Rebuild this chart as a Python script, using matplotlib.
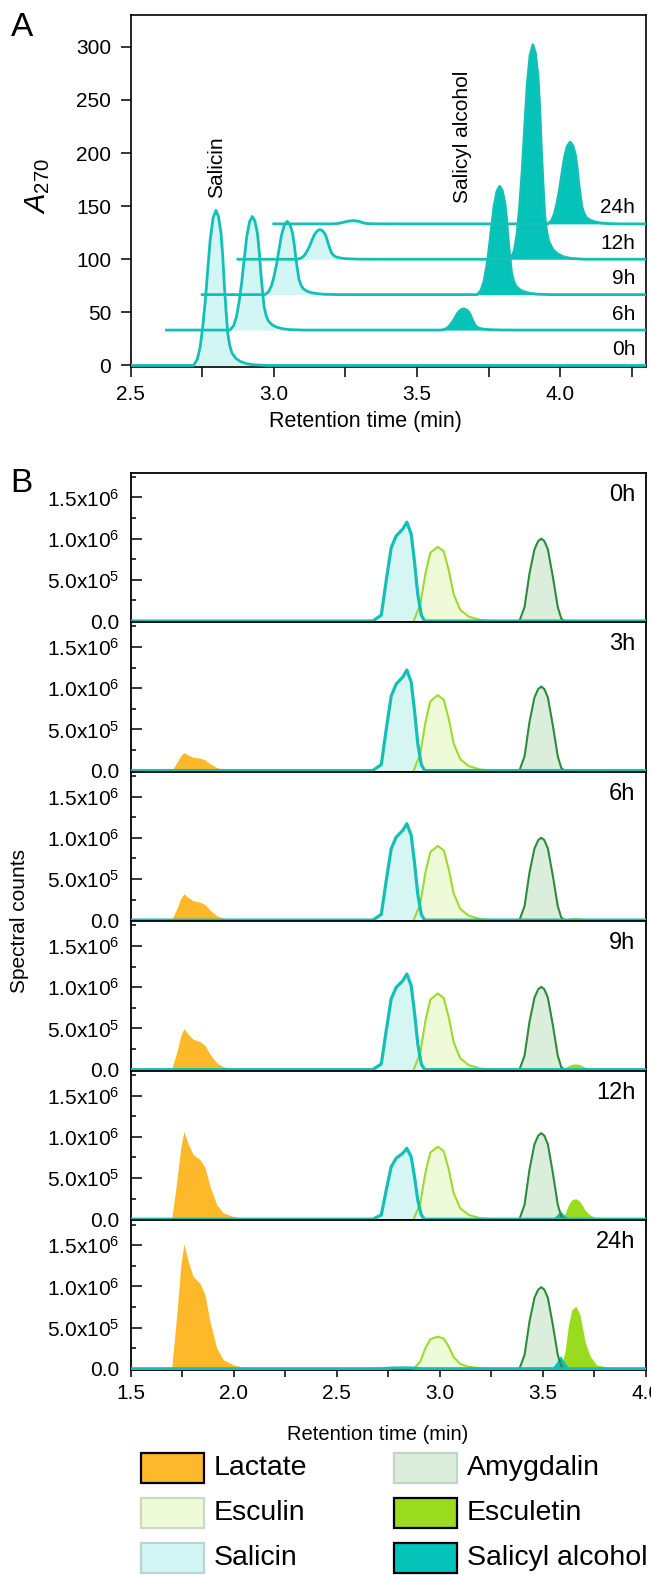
import numpy as np
import matplotlib
matplotlib.use('Agg')
import matplotlib.pyplot as plt
from matplotlib.patches import Rectangle
from matplotlib.ticker import MultipleLocator

plt.rcParams['font.family'] = ['Liberation Sans', 'DejaVu Sans']
plt.rcParams['mathtext.fontset'] = 'custom'
plt.rcParams['mathtext.rm'] = 'Liberation Sans'
plt.rcParams['mathtext.it'] = 'Liberation Sans:italic'

# ---- panel A data (HPLC, A270) ----
a_times = ['0h', '6h', '9h', '12h', '24h']
a_x_shift = [0, 0.125, 0.25, 0.375, 0.5]      # waterfall offsets
a_y_shift = [0, 33.3, 66.7, 100, 133.3]
a_salicin_rt = [2.798, 2.800, 2.797, 2.786, 2.777]
a_salicin_h = [146, 107, 69, 28, 3]
a_salalc_rt = [3.540, 3.538, 3.539, 3.530, 3.535]
a_salalc_h = [0, 20, 102, 202, 77]
a_peak_dt = [-0.078, -0.065, -0.055, -0.046, -0.037, -0.028, -0.020, -0.010, 0,
             0.009, 0.018, 0.024, 0.029, 0.035, 0.041, 0.048, 0.056, 0.070,
             0.085, 0.105, 0.132, 0.179]
a_peak_fr = [0, 0.04, 0.12, 0.25, 0.42, 0.63, 0.81, 0.95, 1.0,
             0.96, 0.85, 0.70, 0.53, 0.36, 0.21, 0.13, 0.08, 0.045,
             0.026, 0.012, 0.004, 0]

# ---- panel B data (MS spectral counts, x10^6) ----
b_times = ['0h', '3h', '6h', '9h', '12h', '24h']
lactate_h = [0, 0.22, 0.32, 0.50, 1.065, 1.52]
salicin_h = [1.20, 1.22, 1.17, 1.16, 0.86, 0.01]
esculin_h = [0.90, 0.915, 0.90, 0.925, 0.88, 0.39]
amygdalin_h = [1.00, 1.02, 1.00, 1.005, 1.045, 0.99]
esculetin_h = [0, 0, 0.03, 0.07, 0.25, 0.76]
salalc_h = [0, 0, 0, 0.01, 0.10, 0.16]
rt = {'Lactate': 1.759, 'Salicin': 2.840, 'Esculin': 2.990,
      'Amygdalin': 3.492, 'Esculetin': 3.660, 'Salicyl alcohol': 3.585}
# traced peak outlines
lac_dt = [-0.060, -0.035, -0.015, 0, 0.021, 0.045, 0.078, 0.102, 0.126, 0.159, 0.191, 0.239, 0.304, 0.353]
lac_fr = [0, 0.43, 0.83, 1.0, 0.854, 0.735, 0.68, 0.59, 0.377, 0.164, 0.072, 0.032, 0.005, 0]
sal_dt = [-0.165, -0.124, -0.100, -0.076, -0.052, -0.020, 0, 0.021, 0.037, 0.053, 0.070, 0.086]
sal_fr = [0, 0.06, 0.41, 0.74, 0.86, 0.93, 1.0, 0.88, 0.60, 0.27, 0.06, 0]
esc_dt = [-0.117, -0.085, -0.060, -0.036, 0, 0.029, 0.053, 0.077, 0.109, 0.150, 0.206, 0.271]
esc_fr = [0, 0.22, 0.64, 0.92, 1.0, 0.94, 0.69, 0.36, 0.15, 0.06, 0.014, 0]
amy_dt = [-0.106, -0.081, -0.057, -0.033, -0.015, 0, 0.015, 0.032, 0.056, 0.080, 0.097, 0.113]
amy_fr = [0, 0.17, 0.58, 0.87, 0.97, 1.0, 0.97, 0.87, 0.54, 0.17, 0.03, 0]
eti_dt = [-0.076, -0.052, -0.036, -0.020, 0, 0.020, 0.045, 0.069, 0.101, 0.166, 0.230]
eti_fr = [0, 0.28, 0.70, 0.94, 1.0, 0.86, 0.43, 0.20, 0.06, 0.02, 0]
sa_dt = [-0.043, -0.022, 0, 0.022, 0.046]
sa_fr = [0, 0.44, 1.0, 0.44, 0]

b_xticks = [1.5, 2.0, 2.5, 3.0, 3.5, 4.0]
b_yticks = [0, 0.5, 1.0, 1.5]
b_ylabels = ['0.0', r'5.0x10$^{5}$', r'1.0x10$^{6}$', r'1.5x10$^{6}$']

legend_names = ['Lactate', 'Esculin', 'Salicin', 'Amygdalin', 'Esculetin', 'Salicyl alcohol']

# colours
TEAL = '#14BFB6'
SALALC = '#06C3B9'
SAL_FILL = '#D2F6F3'
LAC = '#FDB92A'
ESC_LINE = '#9BDB2C'
ESC_FILL = '#EFFAD8'
AMY_LINE = '#2E8B3E'
AMY_FILL = '#DBEDDB'
ETI = '#9ADB1F'
fill_col = {'Lactate': LAC, 'Esculin': ESC_FILL, 'Salicin': SAL_FILL,
            'Amygdalin': AMY_FILL, 'Esculetin': ETI, 'Salicyl alcohol': SALALC}
edge_col = {'Lactate': 'black', 'Esculin': '#CCD9BE', 'Salicin': '#B9D6D6',
            'Amygdalin': '#C5D5C5', 'Esculetin': 'black', 'Salicyl alcohol': 'black'}


def peak(apex, h, dt, fr):
    return apex + np.array(dt), h * np.array(fr)


W, H = 651, 1575
fig = plt.figure(figsize=(W / 100, H / 100), dpi=100)

# ================= panel A =================
axA = fig.add_axes([130.6 / W, 1 - 366.5 / H, 515.4 / W, 351.5 / H])
for i in range(len(a_times)):
    dx, dy = a_x_shift[i], a_y_shift[i]
    xs, ys = peak(a_salicin_rt[i], a_salicin_h[i], a_peak_dt, a_peak_fr)
    x2, y2 = peak(a_salalc_rt[i], a_salalc_h[i], a_peak_dt, a_peak_fr)
    axA.fill_between(xs + dx, dy, ys + dy, color=SAL_FILL, lw=0, zorder=1)
    axA.fill_between(x2 + dx, dy, y2 + dy, color=SALALC, lw=0, zorder=1)
    tx = np.concatenate([[2.5], xs, x2, [4.4]]) + dx
    ty = np.concatenate([[0], ys, y2, [0]]) + dy
    axA.plot(tx, ty, color=TEAL, lw=2.0, zorder=3, solid_joinstyle='round')
    axA.text(0.979, dy + 15, a_times[i], transform=axA.get_yaxis_transform(),
             ha='right', va='center', fontsize=15)

axA.set_xlim(2.5, 4.3)
axA.set_ylim(-1, 330)
axA.set_xticks([2.5, 3.0, 3.5, 4.0])
axA.set_xticklabels(['2.5', '3.0', '3.5', '4.0'])
axA.xaxis.set_minor_locator(MultipleLocator(0.25))
axA.yaxis.set_major_locator(MultipleLocator(50))
axA.tick_params(axis='both', which='both', direction='out', length=7, width=1.1, labelsize=15)
axA.tick_params(axis='x', pad=6)
axA.tick_params(axis='y', pad=7)
for s in axA.spines.values():
    s.set_linewidth(1.2)
fig.text(365 / W, 1 - 421 / H, 'Retention time (min)', ha='center', va='center', fontsize=15.5)
axA.text(2.799, 158, 'Salicin', rotation=90, ha='center', va='bottom', fontsize=15)
axA.text(3.660, 153, 'Salicyl alcohol', rotation=90, ha='center', va='bottom', fontsize=15)
fig.text(38 / W, 1 - 186 / H, r'$\mathit{A}_{\mathrm{270}}$', rotation=90,
         ha='center', va='center', fontsize=21)
fig.text(11 / W, 1 - 36 / H, 'A', fontsize=24, va='baseline')

# ================= panel B =================
top0, ph = 472.7, 149.55
for i, lab in enumerate(b_times):
    ax = fig.add_axes([130.6 / W, 1 - (top0 + (i + 1) * ph) / H, 515.4 / W, ph / H])

    # fills
    x, y = peak(rt['Lactate'], lactate_h[i], lac_dt, lac_fr)
    ax.fill_between(x, 0, y, color=LAC, lw=0, zorder=1)
    x, y = peak(rt['Amygdalin'], amygdalin_h[i], amy_dt, amy_fr)
    ax.fill_between(x, 0, y, color=AMY_FILL, lw=0, zorder=1)
    amy = (x, y)
    x, y = peak(rt['Esculin'], esculin_h[i], esc_dt, esc_fr)
    ax.fill_between(x, 0, y, color=ESC_FILL, lw=0, zorder=1)
    esc = (x, y)
    x, y = peak(rt['Salicin'], salicin_h[i], sal_dt, sal_fr)
    ax.fill_between(x, 0, y, color=SAL_FILL, lw=0, zorder=1, alpha=0.9)
    sal = (x, y)
    x, y = peak(rt['Esculetin'], esculetin_h[i], eti_dt, eti_fr)
    ax.fill_between(x, 0, y, color=ETI, lw=0, zorder=1.2)
    x, y = peak(rt['Salicyl alcohol'], salalc_h[i], sa_dt, sa_fr)
    ax.fill_between(x, 0, y, color=SALALC, lw=0, zorder=1.4)

    # outlines
    ax.plot(*amy, color=AMY_LINE, lw=1.5, zorder=2)
    ax.plot(*esc, color=ESC_LINE, lw=1.5, zorder=2)
    ax.plot(np.concatenate([[1.5], sal[0], [4.0]]), np.concatenate([[0], sal[1], [0]]),
            color=TEAL, lw=2.3, zorder=3, solid_joinstyle='round')

    ax.set_xlim(1.5, 4.0)
    ax.set_ylim(-0.015, 1.8)
    ax.set_yticks(b_yticks)
    ax.set_yticklabels(b_ylabels)
    ax.yaxis.set_minor_locator(MultipleLocator(0.25))
    ax.tick_params(axis='y', which='major', direction='in', length=8, width=1.1,
                   labelsize=15, pad=8)
    ax.tick_params(axis='y', which='minor', direction='in', length=3.8, width=1.1)
    for s in ax.spines.values():
        s.set_linewidth(1.3)
    ax.text(0.979, 0.853, lab, transform=ax.transAxes, ha='right', va='center', fontsize=17)
    ax.set_xticks(b_xticks)
    ax.xaxis.set_minor_locator(MultipleLocator(0.25))
    if i < len(b_times) - 1:
        ax.tick_params(axis='x', which='both', length=0, labelbottom=False)
    else:
        ax.set_xticklabels(['%.1f' % v for v in b_xticks])
        ax.tick_params(axis='x', which='both', direction='out', length=5, width=1.1,
                       labelsize=15, pad=5)

fig.text(378 / W, 1 - 1434 / H, 'Retention time (min)', ha='center', va='center', fontsize=14.5)
fig.text(20 / W, 1 - 921 / H, 'Spectral counts', rotation=90, ha='center', va='center',
         fontsize=15)
fig.text(10 / W, 1 - 492 / H, 'B', fontsize=24, va='baseline')

# ---- legend (two columns of swatches) ----
box_x = [141, 141, 141, 394, 394, 394]
box_y = [1453, 1498, 1543, 1453, 1498, 1543]
for name, bx, by in zip(legend_names, box_x, box_y):
    fig.add_artist(Rectangle((bx / W, 1 - (by + 30) / H), 63 / W, 30 / H,
                             transform=fig.transFigure, facecolor=fill_col[name],
                             edgecolor=edge_col[name], lw=1.6))
    fig.text((bx + 73) / W, 1 - (by + 15) / H, name, ha='left', va='center', fontsize=20.5)

fig.savefig('out.png', dpi=100)
